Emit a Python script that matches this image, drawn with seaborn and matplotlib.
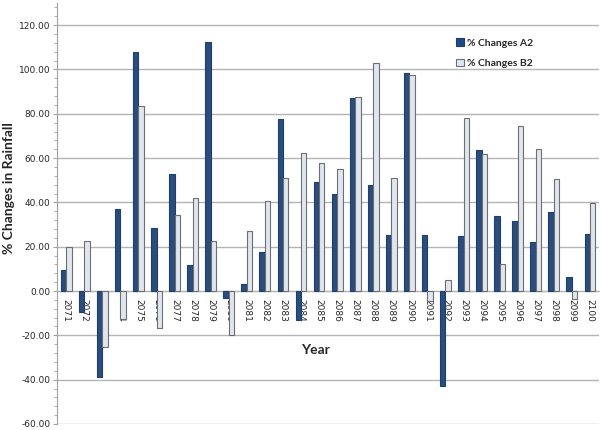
import matplotlib
matplotlib.use("Agg")
import matplotlib.pyplot as plt
import numpy as np
import pandas as pd
import seaborn as sns
from matplotlib.ticker import MultipleLocator

years = [str(y) for y in range(2071, 2101)]
changes_a2 = [9.7, -9.5, -38.8, 37.0, 108.0, 28.3, 53.0, 11.8, 112.5, -3.0,
              3.3, 17.8, 77.8, -13.0, 49.2, 43.9, 87.1, 48.0, 25.3, 98.2,
              25.5, -42.9, 25.0, 63.6, 34.0, 31.5, 22.0, 35.8, 6.3, 25.6]
changes_b2 = [19.8, 22.7, -25.2, -12.5, 83.5, -16.5, 34.5, 42.0, 22.7, -20.0,
              27.0, 40.6, 51.2, 62.1, 57.7, 55.3, 87.7, 103.0, 51.1, 97.3,
              -4.5, 5.2, 78.2, 61.7, 12.2, 74.3, 64.0, 50.4, -3.5, 39.6]
series_names = ["% Changes A2", "% Changes B2"]

df = pd.DataFrame({
    "Year": years * 2,
    "value": changes_a2 + changes_b2,
    "series": [series_names[0]] * len(years) + [series_names[1]] * len(years),
})

sns.set_style("white")
plt.rcParams["font.family"] = ["DejaVu Sans"]

fig = plt.figure(figsize=(6.02, 4.30), dpi=100)
ax = fig.add_axes([0.095, 0.014, 0.9, 0.979])

face = {series_names[0]: "#1f4a86", series_names[1]: "#dce6f3"}
edge = {series_names[0]: "#1a3f73", series_names[1]: "#6e6e6e"}

sns.barplot(data=df, x="Year", y="value", hue="series", palette=face,
            width=0.6, ax=ax, legend=False, zorder=3)
for cont, name in zip(ax.containers, series_names):
    for bar in cont:
        bar.set_edgecolor(edge[name])
        bar.set_linewidth(0.8)

ax.set_ylim(-60, 130)
ax.set_xlim(-0.5, len(years) - 0.5)
ax.yaxis.set_minor_locator(MultipleLocator(4))
ax.set_yticks(np.arange(-60, 121, 20))
ax.set_yticklabels([f"{v:.2f}" for v in np.arange(-60, 121, 20)], fontsize=6.5)
ax.yaxis.grid(True, color="#b4b4b4", linewidth=1.0, zorder=0)
ax.set_axisbelow(True)

for s in ["top", "right"]:
    ax.spines[s].set_visible(False)
ax.spines["left"].set_color("#a0a0a0")
ax.spines["bottom"].set_position(("data", 0))
ax.spines["bottom"].set_color("#b4b4b4")
ax.tick_params(axis="y", which="both", left=True, length=3, color="#a0a0a0", pad=2)
ax.tick_params(axis="y", which="minor", length=2)
ax.tick_params(axis="x", bottom=False, pad=2)
ax.set_xticks(range(len(years)))
ax.set_xticklabels(years, rotation=270, fontsize=6.5)

ax.set_ylabel("% Changes in Rainfall", fontsize=10, fontweight="bold", family="Lato")
ax.yaxis.set_label_coords(-0.078, 0.56)
ax.set_xlabel("Year", fontsize=10, fontweight="bold", family="Lato")
ax.xaxis.set_label_coords(0.477, 0.19)

handles = [plt.Rectangle((0, 0), 1, 1, facecolor=face[n], edgecolor=edge[n], linewidth=0.8)
           for n in series_names]
ax.legend(handles, series_names, loc="upper left", bbox_to_anchor=(0.718, 0.938),
          frameon=False, handlelength=0.8, handleheight=0.8,
          handletextpad=0.3, labelspacing=1.0,
          prop={"weight": "bold", "size": 7.5, "family": "Lato"})

fig.savefig("out.png", dpi=100)
plt.close(fig)
